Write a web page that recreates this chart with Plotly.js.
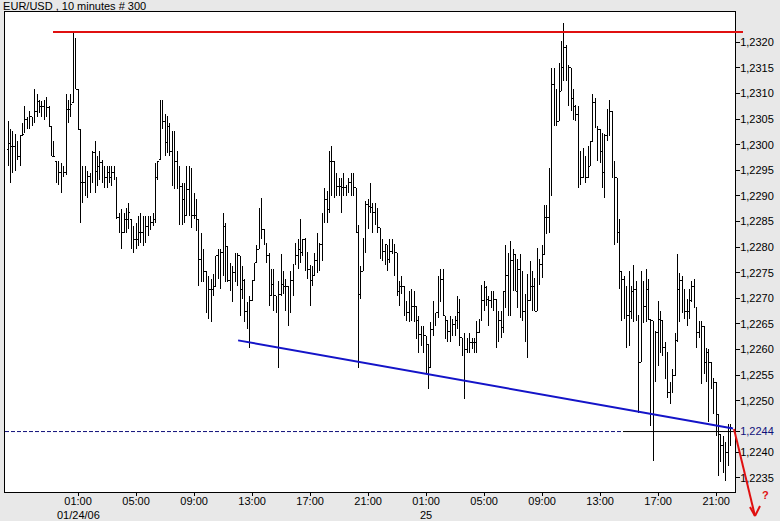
<!DOCTYPE html>
<html><head><meta charset="utf-8">
<script src="https://cdn.plot.ly/plotly-3.0.1.min.js"></script>
<style>html,body{margin:0;padding:0;background:#e8e8e8;}#chart{width:780px;height:521px;}
#chart g.trace.ohlc path{shape-rendering:crispEdges;}</style>
</head><body><div id="chart"></div>
<script>
// ---- data (prices in pips above BASE) ----
const TITLE = 'EUR/USD , 10 minutes # 300';
const START_UTC = Date.UTC(2006, 0, 23, 20, 10);   // first bar time
const BAR_MINUTES = 10;
const BASE = 1.22, PIP = 0.0001;

const openPips = [
99,100.3,99.7,99.7,98.4,97.7,101.7,102.3,104.9,104.9,
105.5,104.9,106.5,108.5,107.5,107.5,106.8,107.2,103.6,97.7,
96.8,94.5,94.5,93.8,94.5,106.8,106.8,108.2,114.7,110.8,
103.0,92.6,92.6,91.9,93.8,92.6,98.4,94.8,95.8,96.5,
93.8,93.5,94.5,93.5,94.5,93.5,85.7,85.4,82.8,85.4,
85.4,85.4,83.5,81.5,81.5,82.8,82.8,83.5,84.1,83.5,
84.8,85.4,93.5,97.1,104.6,104.6,100.4,103.6,98.7,97.1,
96.8,94.5,91.9,89.3,86.1,91.3,91.9,86.1,86.1,85.4,
77.6,77.0,75.3,73.1,71.8,71.8,72.4,78.3,75.7,78.9,
84.1,80.2,73.4,73.7,75.0,76.3,78.3,71.8,73.4,67.5,
66.6,69.5,73.4,77.0,79.6,86.7,83.5,80.5,78.3,70.5,
72.7,70.5,68.8,70.8,72.7,72.4,72.4,67.5,73.4,76.6,
78.3,79.6,78.9,81.5,78.9,75.7,73.4,74.4,77.3,77.3,
80.5,85.7,89.3,87.4,96.8,96.8,90.6,91.9,91.9,91.6,
91.6,91.6,92.6,91.6,91.6,82.8,70.8,75.3,80.5,88.3,
88.0,87.7,86.7,86.7,83.8,80.5,79.2,80.5,77.6,79.2,
80.5,78.9,71.4,72.4,72.4,67.5,67.2,67.9,68.5,68.5,
65.6,63.0,63.3,62.7,61.0,56.5,64.0,66.6,67.2,71.8,
73.7,66.6,65.6,63.6,64.0,64.9,65.6,67.2,62.3,60.4,
60.1,61.4,61.4,61.4,61.4,63.3,65.9,69.5,72.1,
69.8,69.5,69.5,69.8,62.3,65.6,64.3,71.4,74.4,71.4,
77.3,78.6,71.4,75.7,75.3,67.5,70.8,69.5,72.4,72.4,
67.5,76.6,76.6,78.6,85.7,85.7,92.9,111.7,104.6,104.6,
110.4,115.0,118.9,115.0,115.0,109.1,107.5,105.9,92.9,93.5,
96.8,93.5,95.8,100.7,108.2,103.6,103.0,98.7,94.5,
101.7,101.7,106.5,93.5,93.5,82.8,75.3,73.7,66.6,66.6,
67.5,71.4,71.8,66.6,57.5,65.3,68.5,71.8,65.9,65.6,
63.3,63.3,65.9,65.6,60.4,59.4,51.6,51.6,54.9,61.7,
71.8,73.4,68.5,67.5,67.5,69.5,72.4,68.2,63.3,65.3,
64.6,57.5,59.4,57.5,54.2,53.6,47.4,43.5,41.2,37.3,
39.9,43.2];

const highPips = [
104.6,103.0,102.6,102.0,100.7,101.7,104.2,107.5,105.5,106.5,
105.5,110.8,109.8,108.8,108.5,108.8,109.4,107.5,103.6,100.7,
96.8,96.8,96.5,95.8,109.8,108.8,109.8,121.8,120.8,110.8,
103.0,95.8,95.8,94.8,94.5,98.8,100.7,97.7,98.8,97.1,
95.8,95.8,95.8,95.8,95.8,93.5,86.7,87.4,86.7,87.7,
88.7,85.4,84.1,84.8,86.1,86.7,86.1,86.1,86.1,86.1,
86.7,96.5,96.8,108.8,108.8,105.9,105.6,104.3,102.6,102.6,
98.7,95.8,92.6,92.6,95.8,95.8,95.5,90.6,89.3,85.4,
82.8,79.6,75.3,74.4,73.7,74.7,78.3,79.6,79.6,86.7,
84.8,80.2,77.0,76.3,78.9,78.9,78.3,76.3,73.7,69.2,
70.5,73.4,77.0,80.5,87.7,89.6,83.5,80.9,78.9,75.7,
75.7,70.5,73.4,78.6,75.3,73.7,72.4,75.3,76.6,80.9,
81.5,85.4,81.5,81.8,78.9,76.6,76.3,78.9,82.8,80.9,
86.7,91.6,90.9,98.7,99.7,96.8,94.5,93.5,93.5,94.5,
92.2,93.5,94.5,94.5,91.6,84.4,76.3,81.8,89.0,89.3,
92.6,88.7,88.7,87.7,83.8,81.5,80.5,80.5,81.5,81.5,
80.5,78.9,73.4,74.4,72.4,69.5,71.4,71.8,71.4,68.5,
66.6,64.6,64.6,62.7,61.0,65.3,69.5,67.2,74.4,75.7,
75.7,66.6,65.6,66.6,65.9,66.6,70.5,69.8,62.3,63.3,
62.3,63.3,62.3,62.3,65.6,65.9,72.7,73.4,72.4,
70.5,71.4,71.4,69.8,67.5,67.5,71.4,80.5,78.9,81.2,
79.6,78.6,77.6,78.6,75.3,70.8,74.7,77.3,75.3,74.0,
79.9,77.6,80.5,88.3,88.3,95.5,115.0,115.0,110.8,116.0,
120.2,123.8,119.5,115.6,115.0,110.8,107.8,107.5,98.7,99.4,
97.8,99.7,100.7,109.8,109.1,103.6,103.0,102.3,102.0,
106.9,108.8,106.5,96.8,93.5,85.4,75.3,74.4,72.4,75.3,
72.4,76.6,73.4,66.6,75.3,73.4,75.7,73.7,65.9,65.6,
63.6,69.5,67.5,65.6,61.4,59.4,53.6,56.2,63.3,78.6,
75.0,74.4,71.8,69.8,71.8,73.4,73.7,68.2,65.6,65.6,
64.6,60.4,60.1,57.5,54.5,53.6,47.4,43.5,43.2,41.9,
45.4,45.4];

const lowPips = [
95.8,92.6,94.5,94.8,97.1,95.8,101.7,102.3,103.0,103.0,
103.6,104.2,105.5,106.2,105.5,104.9,105.5,103.6,97.7,97.7,
92.6,92.2,90.6,93.8,94.0,104.2,105.5,108.2,110.8,103.0,
84.7,88.7,90.0,89.6,90.6,92.6,90.6,91.9,93.2,92.6,
91.6,91.6,92.6,91.9,93.2,85.4,82.8,79.6,82.8,82.8,
83.5,79.6,78.9,79.6,80.2,80.9,80.2,80.9,82.2,83.5,
84.1,84.8,93.2,97.1,103.0,97.8,98.4,97.8,91.9,91.3,
91.3,84.4,84.4,84.8,86.1,86.1,83.8,85.4,83.1,72.4,
73.1,73.1,67.2,65.9,65.3,70.5,72.4,73.7,71.8,74.4,
73.1,73.1,71.4,69.2,73.1,72.4,66.6,69.8,65.3,64.0,
60.4,69.5,73.4,77.0,79.6,81.5,80.5,77.0,68.5,70.5,
67.5,67.2,56.5,70.5,70.8,67.5,64.6,67.2,70.5,76.6,
75.7,77.0,78.3,75.3,73.7,68.5,72.4,74.4,75.0,75.3,
77.3,84.8,84.8,86.7,89.9,89.6,89.9,89.9,86.7,89.9,
89.9,90.6,89.9,89.9,82.8,56.5,69.8,75.3,78.9,83.5,
86.7,82.8,84.4,82.8,77.6,77.3,76.6,75.3,77.0,78.6,
74.4,70.5,68.5,70.8,66.6,65.6,65.3,65.6,65.3,62.0,
59.4,60.7,59.4,55.5,52.3,56.5,62.7,64.6,66.2,69.2,
66.6,62.0,61.4,61.4,62.7,62.7,64.0,60.7,58.8,50.3,
59.4,59.4,60.1,59.4,59.4,63.3,65.6,67.5,68.5,
64.6,68.2,67.5,60.4,61.4,62.3,63.3,68.2,66.6,66.6,
71.4,71.4,68.2,66.2,65.6,61.4,58.4,69.5,67.5,67.5,
67.5,72.7,74.0,78.6,82.5,82.8,89.9,103.6,103.6,104.6,
110.4,112.4,112.4,107.5,106.5,104.9,104.6,91.6,92.2,93.5,
92.6,93.5,95.8,100.7,103.3,96.8,96.5,91.6,89.6,
100.7,101.7,93.5,80.5,80.9,71.8,65.6,65.9,60.4,60.7,
65.9,65.3,65.6,47.7,57.5,65.3,65.3,65.9,45.1,38.3,
53.6,56.8,59.4,58.8,54.2,50.6,49.3,51.6,54.9,61.4,
65.3,67.2,65.9,64.6,65.9,69.2,68.2,60.4,62.3,53.2,
55.2,53.6,45.8,52.3,47.4,43.2,35.4,38.0,36.0,34.4,
37.3,41.2];

const closePips = [
100.3,99.7,99.7,98.4,97.7,101.7,102.0,104.9,104.9,105.5,
104.9,106.5,108.5,107.5,107.5,106.8,107.2,103.6,97.7,97.7,
94.5,94.5,93.2,94.5,106.8,106.8,107.8,114.7,110.8,103.0,
92.6,92.6,91.9,93.8,92.6,98.4,94.8,95.8,96.5,93.8,
93.5,94.5,93.5,94.5,93.5,85.7,85.4,82.8,85.4,85.4,
86.7,83.5,81.5,81.5,82.8,82.8,83.5,84.1,82.8,84.8,
85.4,93.5,96.8,104.6,104.6,100.4,103.6,98.7,97.1,96.8,
94.5,91.9,89.3,86.1,91.3,91.9,86.1,86.1,85.4,77.6,
77.0,75.3,73.1,71.8,71.8,72.4,78.3,75.7,78.9,84.1,
80.2,73.4,73.7,75.0,76.3,78.3,71.8,73.4,67.5,66.6,
69.5,73.4,77.0,79.6,86.7,83.5,80.5,78.3,70.5,72.7,
70.5,68.8,70.8,72.7,72.4,72.4,67.5,73.4,76.6,78.3,
79.6,78.9,81.5,78.9,75.7,73.4,74.4,77.3,77.3,80.5,
85.7,89.3,87.4,96.8,96.8,90.6,91.9,91.9,91.6,91.6,
91.6,92.6,91.6,91.6,82.8,70.8,75.3,80.5,88.3,88.0,
87.7,86.7,86.7,83.8,80.5,79.2,80.5,77.6,79.2,80.5,
78.9,71.4,72.4,72.4,67.5,67.2,67.9,68.5,68.5,65.6,
63.0,63.3,62.7,61.0,56.5,64.0,66.6,67.2,71.8,73.7,
66.6,65.6,63.6,64.0,64.9,65.6,67.2,62.3,60.4,60.1,
61.4,61.4,61.4,61.4,63.3,65.9,69.5,72.1,69.8,
69.5,69.5,69.8,62.3,65.6,64.3,71.4,74.4,71.4,77.3,
78.6,71.4,75.7,75.3,67.5,70.8,69.5,72.4,72.4,67.5,
76.6,76.6,78.6,85.7,85.7,92.9,111.7,104.6,104.6,110.4,
115.0,118.9,115.0,115.0,109.1,107.5,105.9,92.9,93.5,96.8,
93.5,95.8,100.7,108.2,103.6,103.0,98.7,94.5,101.7,
101.7,106.5,93.5,93.5,82.8,75.3,73.7,66.6,66.6,67.5,
71.4,71.8,66.6,57.5,65.3,68.5,71.8,65.9,65.6,63.3,
63.3,65.9,65.6,60.4,59.4,51.6,51.6,54.9,61.7,71.8,
73.4,68.5,67.5,67.5,69.5,72.4,68.2,63.3,65.3,64.6,
57.5,59.4,57.5,54.2,53.6,47.4,43.5,41.2,37.3,39.9,
43.2,44.8];

// x axis tick labels
const tickTimes = ['2006-01-24 01:00','2006-01-24 05:00','2006-01-24 09:00','2006-01-24 13:00',
  '2006-01-24 17:00','2006-01-24 21:00','2006-01-25 01:00','2006-01-25 05:00',
  '2006-01-25 09:00','2006-01-25 13:00','2006-01-25 17:00','2006-01-25 21:00'];
const tickLabels = ['01:00','05:00','09:00','13:00','17:00','21:00',
  '01:00','05:00','09:00','13:00','17:00','21:00'];
const dateLabelTimes = ['2006-01-24 01:00', '2006-01-25 01:00'];
const dateLabels = ['01/24/06', '25'];
// y axis ticks (the 1,2245 level is replaced by the last-price label 1,2244)
const priceTicks = [1.2235,1.2240,1.2250,1.2255,1.2260,1.2265,1.2270,1.2275,1.2280,
  1.2285,1.2290,1.2295,1.2300,1.2305,1.2310,1.2315,1.2320];
const lastPrice = 1.2244;
const resistancePrice = 1.2322;
const trendBarIdx = [95.2, 300];
const trendPrices = [1.22618, 1.22446];

// ---- build ----
function barTime(idx) {
  const d = new Date(START_UTC + idx * BAR_MINUTES * 60000);
  return d.toISOString().slice(0, 19).replace('T', ' ');
}
const toPrice = p => +(BASE + p * PIP).toFixed(5);
const times = openPips.map((_, i) => barTime(i));

const trace = {
  type: 'ohlc', x: times,
  open: openPips.map(toPrice), high: highPips.map(toPrice),
  low: lowPips.map(toPrice), close: closePips.map(toPrice),
  increasing: {line: {color: '#000000', width: 1}},
  decreasing: {line: {color: '#000000', width: 1}},
  tickwidth: 0.45, hoverinfo: 'skip'
};

const fmtPrice = v => v.toFixed(4).replace('.', ',');
const yVals = priceTicks.concat([lastPrice]);
const yText = priceTicks.map(fmtPrice).concat(['<span style="color:#10107a">' + fmtPrice(lastPrice) + '</span>']);

// pixel helpers for decorations outside the data area
const L = 5, R = 735, T = 12, B = 492;
const px = x => (x - L) / (R - L);
const py = y => (B - y) / (B - T);

const dateAnn = dateLabelTimes.map((t, k) => ({
  xref: 'x', yref: 'paper', x: t, y: py(515), text: dateLabels[k], showarrow: false,
  xanchor: 'center', yanchor: 'middle', font: {size: 11, color: '#000000'}
}));

const layout = {
  width: 780, height: 521,
  margin: {l: 5, r: 45, t: 12, b: 29, pad: 0},
  paper_bgcolor: '#e8e8e8', plot_bgcolor: '#ffffff',
  font: {family: 'Liberation Sans, Arial, sans-serif', size: 11, color: '#000000'},
  showlegend: false,
  title: {text: TITLE, x: 0.004, xanchor: 'left', xref: 'container', y: 0.9875, yanchor: 'middle', yref: 'container',
          font: {size: 11, color: '#000000'}},
  xaxis: {
    type: 'date', range: [barTime(-1.24), barTime(300.8)],
    tickmode: 'array', tickvals: tickTimes, ticktext: tickLabels,
    ticks: 'outside', ticklen: 3, tickcolor: '#000000', tickwidth: 1, ticklabelstandoff: -4,
    showline: true, mirror: true, linecolor: '#000000', linewidth: 1,
    showgrid: false, zeroline: false, rangeslider: {visible: false}, fixedrange: true
  },
  yaxis: {
    side: 'right', range: [1.22322, 1.23259],
    tickmode: 'array', tickvals: yVals, ticktext: yText,
    ticks: 'outside', ticklen: 4, tickcolor: '#000000', tickwidth: 1, ticklabelstandoff: -2,
    showline: true, mirror: true, linecolor: '#000000', linewidth: 1,
    showgrid: false, zeroline: false, fixedrange: true
  },
  shapes: [
    {type: 'line', xref: 'paper', yref: 'y', x0: px(53), x1: px(743), y0: resistancePrice, y1: resistancePrice,
     line: {color: '#e01010', width: 2}},
    {type: 'line', xref: 'paper', yref: 'y', x0: 0, x1: px(623), y0: lastPrice, y1: lastPrice,
     line: {color: '#10107a', width: 1, dash: '4px,2px'}},
    {type: 'line', xref: 'paper', yref: 'y', x0: px(623), x1: 1, y0: lastPrice, y1: lastPrice,
     line: {color: '#000000', width: 1}},
    {type: 'line', xref: 'x', yref: 'y', x0: barTime(trendBarIdx[0]), x1: barTime(trendBarIdx[1]),
     y0: trendPrices[0], y1: trendPrices[1], line: {color: '#1414c8', width: 2}},
    {type: 'line', xref: 'paper', yref: 'paper', x0: px(734), y0: py(429), x1: px(755), y1: py(516),
     line: {color: '#e01010', width: 2}},
    {type: 'line', xref: 'paper', yref: 'paper', x0: px(750), y0: py(507), x1: px(755), y1: py(516),
     line: {color: '#e01010', width: 2}},
    {type: 'line', xref: 'paper', yref: 'paper', x0: px(760), y0: py(506), x1: px(755), y1: py(516),
     line: {color: '#e01010', width: 2}}
  ],
  annotations: [
    {xref: 'paper', yref: 'paper', x: px(765), y: py(495), text: '<b>?</b>', showarrow: false,
     xanchor: 'center', yanchor: 'middle', font: {size: 11, color: '#e01010'}}
  ].concat(dateAnn)
};

Plotly.newPlot('chart', [trace], layout, {staticPlot: true, displayModeBar: false});
</script>
</body></html>
